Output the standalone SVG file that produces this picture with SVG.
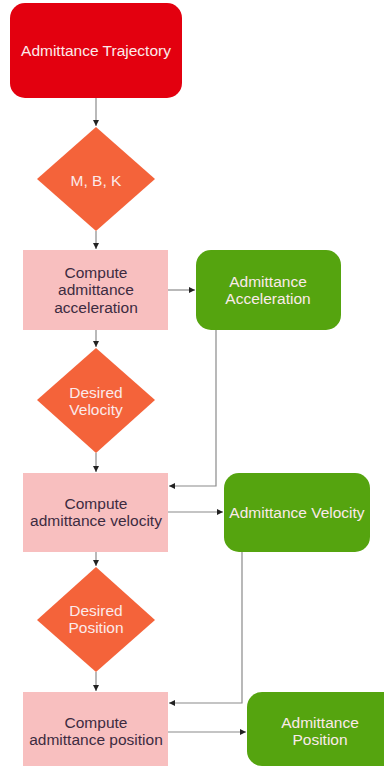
<svg xmlns="http://www.w3.org/2000/svg" width="384" height="766" viewBox="0 0 384 766">
  <defs>
    <marker id="arrow" viewBox="0 0 6 6" refX="6" refY="3" markerWidth="5" markerHeight="5" orient="auto">
      <path d="M0,0 L6,3 L0,6 z" fill="#222"/>
    </marker>
  </defs>
  <style>
    text { font-family: "Liberation Sans", Arial, sans-serif; font-size: 15.5px; text-anchor: middle; dominant-baseline: central; }
    .start { fill: #e3000f; }
    .decision { fill: #f4633a; }
    .process { fill: #f8bfbf; }
    .result { fill: #55a40f; }
    .light { fill: #fbeaea; }
    .dark { fill: #3d2b3f; }
    .conn { fill: none; stroke: #8a8a8a; stroke-width: 1.2; marker-end: url(#arrow); }
  </style>
  <rect width="384" height="766" fill="#ffffff"/>

  <g id="connectors">
    <path class="conn" d="M96,98 V126"/>
    <path class="conn" d="M96,231 V249"/>
    <path class="conn" d="M168,290 H195"/>
    <path class="conn" d="M96,330 V347"/>
    <path class="conn" d="M216,330 V486 H169"/>
    <path class="conn" d="M96,453 V472"/>
    <path class="conn" d="M168,512 H223"/>
    <path class="conn" d="M96,552 V566"/>
    <path class="conn" d="M242,552 V703 H169"/>
    <path class="conn" d="M96,672 V691"/>
    <path class="conn" d="M168,732 H246"/>
  </g>

  <g id="admittance-trajectory">
    <rect class="start" x="10" y="3" width="172" height="95" rx="15"/>
    <text class="light" x="96" y="50">Admittance Trajectory</text>
  </g>

  <g id="mbk">
    <polygon class="decision" points="96,127 155,179 96,231 37,179"/>
    <text class="light" x="96" y="180">M, B, K</text>
  </g>

  <g id="compute-acceleration">
    <rect class="process" x="23" y="250" width="145" height="80"/>
    <text class="dark" x="96" y="272">Compute</text>
    <text class="dark" x="96" y="289.5">admittance</text>
    <text class="dark" x="96" y="307">acceleration</text>
  </g>

  <g id="admittance-acceleration">
    <rect class="result" x="196" y="250" width="145" height="80" rx="15"/>
    <text class="light" x="268" y="281">Admittance</text>
    <text class="light" x="268" y="298.5">Acceleration</text>
  </g>

  <g id="desired-velocity">
    <polygon class="decision" points="96,348 155,400 96,453 37,400"/>
    <text class="light" x="96" y="392">Desired</text>
    <text class="light" x="96" y="409.5">Velocity</text>
  </g>

  <g id="compute-velocity">
    <rect class="process" x="23" y="473" width="145" height="79"/>
    <text class="dark" x="96" y="503">Compute</text>
    <text class="dark" x="96" y="520">admittance velocity</text>
  </g>

  <g id="admittance-velocity">
    <rect class="result" x="224" y="473" width="146" height="79" rx="15"/>
    <text class="light" x="297" y="512">Admittance Velocity</text>
  </g>

  <g id="desired-position">
    <polygon class="decision" points="96,567 155,620 96,672 37,620"/>
    <text class="light" x="96" y="610">Desired</text>
    <text class="light" x="96" y="627">Position</text>
  </g>

  <g id="compute-position">
    <rect class="process" x="23" y="692" width="145" height="74"/>
    <text class="dark" x="96" y="722">Compute</text>
    <text class="dark" x="96" y="739">admittance position</text>
  </g>

  <g id="admittance-position">
    <rect class="result" x="247" y="692" width="150" height="74" rx="15"/>
    <text class="light" x="320" y="722">Admittance</text>
    <text class="light" x="320" y="739">Position</text>
  </g>
</svg>
